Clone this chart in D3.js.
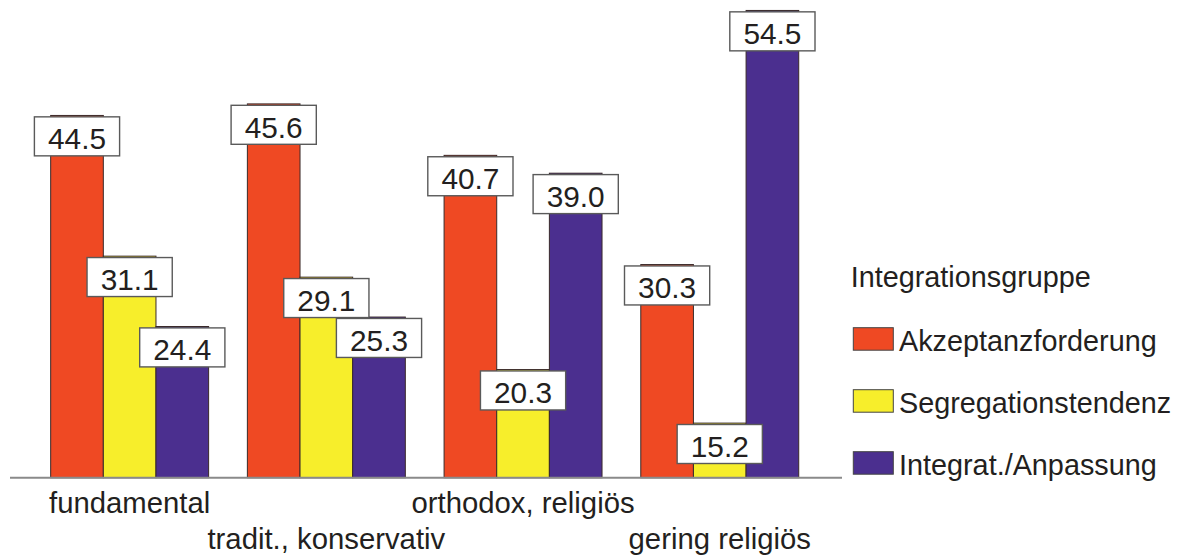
<!DOCTYPE html>
<html><head><meta charset="utf-8">
<script src="https://cdn.jsdelivr.net/npm/d3@7"></script>
<style>body{margin:0;background:#fff}svg{display:block}text{font-family:"Liberation Sans",Arial,sans-serif;fill:#231f20}</style>
</head><body><svg id="c" width="1187" height="558"></svg>
<script>
const categories = ["fundamental", "tradit., konservativ", "orthodox, religiös", "gering religiös"];
const seriesNames = ["Akzeptanzforderung", "Segregationstendenz", "Integrat./Anpassung"];
const akzeptanz = [44.5, 45.6, 40.7, 30.3];
const segregation = [31.1, 29.1, 20.3, 15.2];
const integration = [24.4, 25.3, 39.0, 54.5];
const colors = ["#ef4923", "#f7ee2b", "#4b2f8f"];
const legendTitle = "Integrationsgruppe";

const seriesValues = [akzeptanz, segregation, integration];
const data = [];
categories.forEach((c, i) => seriesNames.forEach((s, j) => data.push({cat: c, ser: s, j, v: seriesValues[j][i]})));

const svg = d3.select("#c");
const x0 = d3.scaleBand().domain(categories).range([31, 818.4]).paddingInner(0.197).paddingOuter(0.1);
const x1 = d3.scaleBand().domain(seriesNames).range([0, x0.bandwidth()]);
const y = d3.scaleLinear().domain([10, 55]).range([477.7, 5.2]);
const color = d3.scaleOrdinal().domain(seriesNames).range(colors);

// bars
svg.append("g").selectAll("rect").data(data).join("rect")
  .attr("x", d => x0(d.cat) + x1(d.ser))
  .attr("y", d => y(d.v))
  .attr("width", x1.bandwidth())
  .attr("height", d => y(10) - y(d.v))
  .attr("fill", d => color(d.ser))
  .attr("stroke", "#3a2a2a").attr("stroke-width", 1);

// axis line
svg.append("line").attr("x1", 10).attr("x2", 842).attr("y1", y(10)).attr("y2", y(10))
  .attr("stroke", "#8a8a8a").attr("stroke-width", 2);

// category labels (staggered)
svg.append("g").selectAll("text").data(categories).join("text")
  .attr("x", d => x0(d) + x0.bandwidth() / 2)
  .attr("y", (d, i) => i % 2 === 0 ? 512.7 : 548.7)
  .attr("text-anchor", "middle")
  .attr("font-size", 29.3)
  .text(d => d);

// value label boxes
const lab = svg.append("g").selectAll("g").data(data).join("g")
  .attr("transform", d => `translate(${x0(d.cat) + x1(d.ser) + x1.bandwidth() / 2},${y(d.v) + 1.4})`);
lab.append("rect").attr("x", -42.6).attr("y", 0).attr("width", 85.2).attr("height", 39)
  .attr("fill", "#fff").attr("stroke", "#5a5a5a").attr("stroke-width", 1.4);
lab.append("text").attr("x", 0).attr("y", 32.4).attr("text-anchor", "middle")
  .attr("font-size", 29.8).text(d => d.v.toFixed(1));

// legend
const lg = svg.append("g");
lg.append("text").attr("x", 850.7).attr("y", 286.7).attr("font-size", 28.8).text(legendTitle);
const li = lg.selectAll("g").data(seriesNames).join("g")
  .attr("transform", (d, i) => `translate(853.3,${327.7 + i * 62})`);
li.append("rect").attr("width", 40).attr("height", 22.5)
  .attr("fill", d => color(d)).attr("stroke", "#444").attr("stroke-width", 1);
li.append("text").attr("x", 45.7).attr("y", 22.8).attr("font-size", 28.8).text(d => d);
</script></body></html>
